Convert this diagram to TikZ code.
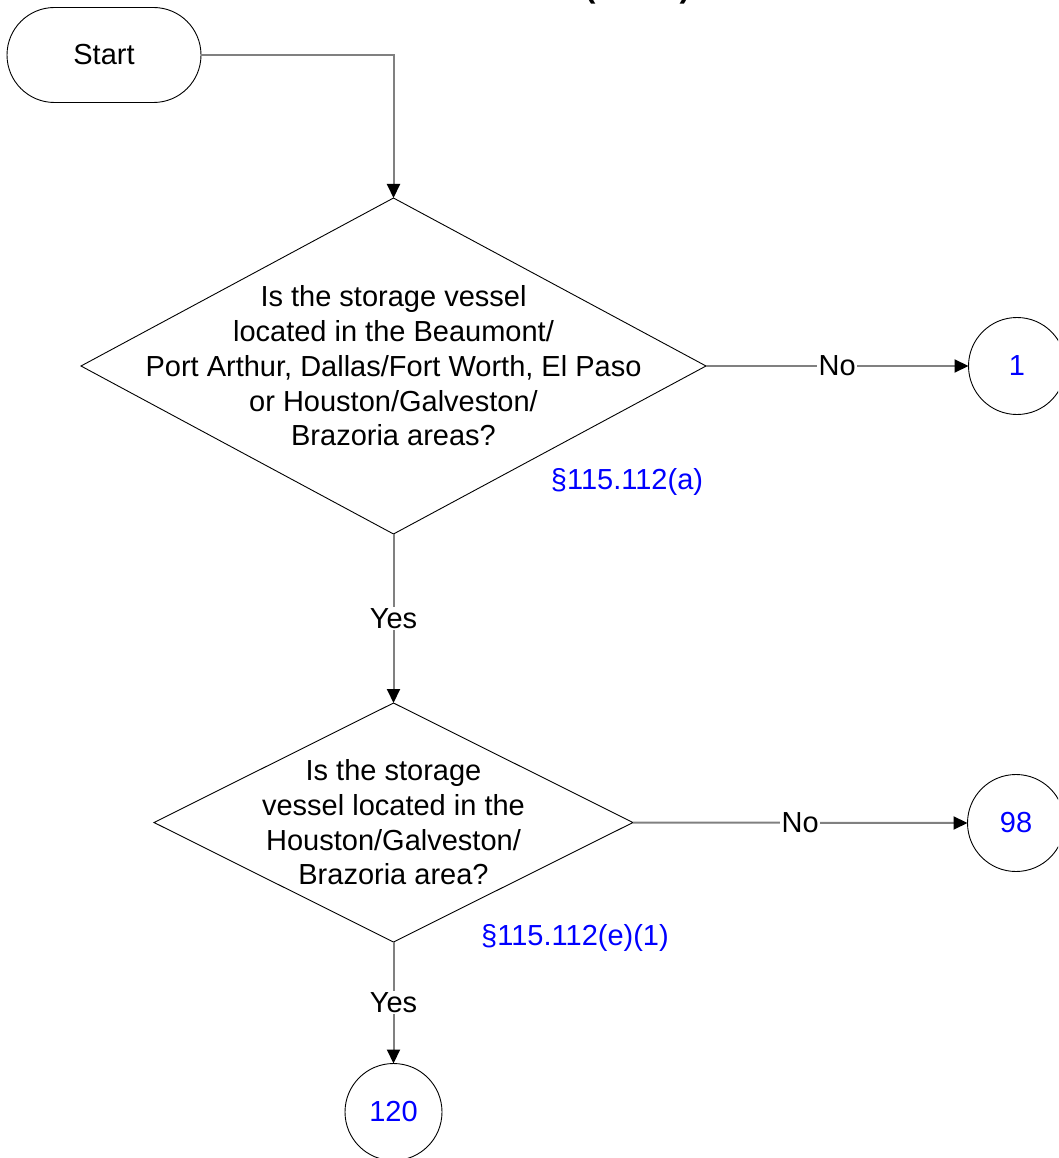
\documentclass[tikz,border=0pt]{standalone}
\usepackage{fontspec}
\setmainfont{Liberation Sans}
\usetikzlibrary{shapes.geometric,arrows.meta}
\definecolor{conngray}{HTML}{808080}
\definecolor{refblue}{HTML}{0000FF}
\begin{document}
\begin{tikzpicture}[x=1pt,y=-1pt,
  txt/.style={font=\fontsize{29}{34.7}\selectfont},
  outline/.style={draw=black, line width=0.9pt},
  decision/.style={outline, diamond, inner sep=0pt, outer sep=0pt},
  connector/.style={outline, circle, minimum size=97pt, inner sep=0pt, outer sep=0pt, text=refblue, txt},
  conn/.style={draw=conngray, line width=2pt, -{Triangle[length=14pt,width=13pt,color=black]}},
  lbl/.style={fill=white, inner sep=1.5pt, txt},
  reftext/.style={text=refblue, txt, inner sep=0pt}
]
\useasboundingbox (0,0) rectangle (1058,1158);
\clip (0,0) rectangle (1058,1158);

% partially visible title (cut off at the top)
\node[font=\bfseries\fontsize{32}{32}\selectfont, anchor=base, inner sep=0pt] (title) at (637.5,-2) {(\hspace{84pt})};

% start terminal
\node[outline, rounded corners=47.5pt, minimum width=194pt, minimum height=95pt, inner sep=0pt, txt] (start) at (104,55) {Start};

% decision 1
\node[decision, minimum width=625pt, minimum height=336pt] (d1) at (393.5,366) {};
\node[txt, align=center, inner sep=0pt] (t1) at (d1.center) {Is the storage vessel\\located in the Beaumont/\\Port Arthur, Dallas/Fort Worth, El Paso\\or Houston/Galveston/\\Brazoria areas?};
\node[reftext] (r1) at (627,482) {§115.112(a)};

% decision 2
\node[decision, minimum width=479pt, minimum height=239pt] (d2) at (393.5,822.5) {};
\node[txt, align=center, inner sep=0pt] (t2) at (d2.center) {Is the storage\\vessel located in the\\Houston/Galveston/\\Brazoria area?};
\node[reftext] (r2) at (575,938) {§115.112(e)(1)};

% off-page connectors
\node[connector] (c1) at (1017,366) {1};
\node[connector] (c98) at (1016,823) {98};
\node[connector] (c120) at (393.5,1112) {120};

% connectors
\draw[conn] (start.east) -| (d1.north);
\draw[conn] (d1.east) -- node[lbl] (no1) {No} (c1.west);
\draw[conn] (d1.south) -- node[lbl] (yes1) {Yes} (d2.north);
\draw[conn] (d2.east) -- node[lbl] (no2) {No} (c98.west);
\draw[conn] (d2.south) -- node[lbl] (yes2) {Yes} (c120.north);
\end{tikzpicture}
\end{document}
